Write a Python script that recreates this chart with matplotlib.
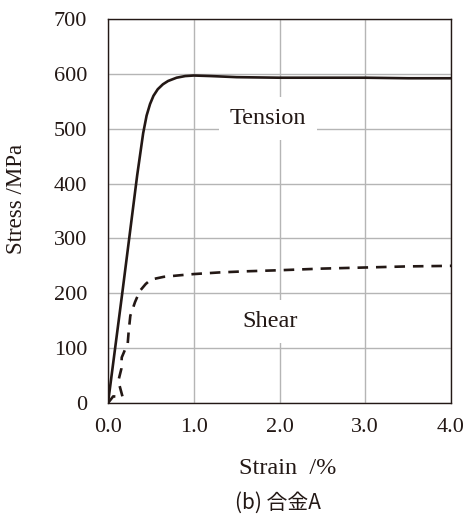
import matplotlib
matplotlib.use('Agg')
import matplotlib.pyplot as plt

# tension curve (strain %, stress MPa)
ten_strain = [0.0, 0.17, 0.34, 0.41, 0.45, 0.49, 0.53, 0.58, 0.64, 0.70, 0.80, 0.90, 1.0, 1.2, 1.5, 2.0, 2.5, 3.0, 3.5, 4.0]
ten_stress = [0, 205, 415, 492, 524, 545, 560, 572, 581, 587, 593, 596, 597, 596, 594, 593, 593, 593, 592, 592]

# shear curve
shr_strain = [0.0, 0.06, 0.17, 0.12, 0.155, 0.16, 0.23, 0.24, 0.26, 0.315, 0.37, 0.44, 0.5, 0.65, 0.85, 1.0, 1.3, 1.6, 2.0, 2.5, 3.0, 3.5, 4.0]
shr_stress = [0, 12, 11, 40, 62, 83, 109, 129, 159, 184, 204, 217, 225, 230, 233, 235, 238, 240, 242, 245, 247, 249, 250]

xticks = [0.0, 1.0, 2.0, 3.0, 4.0]
yticks = [0, 100, 200, 300, 400, 500, 600, 700]

ink = '#231815'
serif = ['Liberation Serif', 'DejaVu Serif']

fig = plt.figure(figsize=(4.65, 5.14), dpi=100)
ax = fig.add_axes([0.2323, 0.216, 0.7377, 0.747])

ax.plot(ten_strain, ten_stress, color=ink, lw=1.9, zorder=3)
ax.plot(shr_strain, shr_stress, color=ink, lw=1.9, dashes=(4.0, 3.0), zorder=3)

ax.set_xlim(0, 4)
ax.set_ylim(0, 700)
ax.set_xticks(xticks)
ax.set_xticklabels(['%.1f' % v for v in xticks])
ax.set_yticks(yticks)
ax.grid(True, color='#b5b5b5', lw=1.0)
ax.set_axisbelow(True)
ax.tick_params(length=0, labelsize=16, colors=ink)
ax.tick_params(axis='y', pad=15)
ax.tick_params(axis='x', pad=11)
for lab in ax.get_xticklabels() + ax.get_yticklabels():
    lab.set_fontfamily(serif)
for s in ax.spines.values():
    s.set_color(ink)
    s.set_linewidth(1.0)

ax.text(1.866, 519, 'Tension', fontsize=17.5, family=serif, color=ink,
        ha='center', va='center', zorder=2,
        bbox=dict(facecolor='white', edgecolor='none', pad=8))
ax.text(1.889, 148, 'Shear', fontsize=17.5, family=serif, color=ink,
        ha='center', va='center', zorder=2,
        bbox=dict(facecolor='white', edgecolor='none', pad=8))

fig.text(17 / 465, 1 - 199 / 514, 'Stress /MPa', rotation=90, fontsize=16.5,
         family=serif, color=ink, ha='center', va='center')
fig.text(287.5 / 465, 1 - 468 / 514, 'Strain  /%', fontsize=17.5,
         family=serif, color=ink, ha='center', va='center')
fig.text(277.5 / 465, 1 - 503 / 514, '(b) 合金A', fontsize=15,
         family=['Noto Sans CJK JP', 'DejaVu Sans'], color=ink, ha='center', va='center')

fig.savefig('out.png', dpi=100)
